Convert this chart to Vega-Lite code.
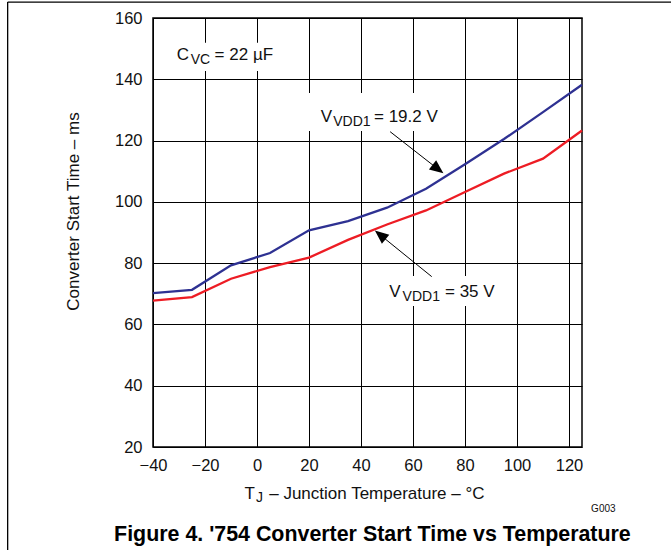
{
  "$schema": "https://vega.github.io/schema/vega-lite/v6.json",
  "width": 429,
  "height": 429,
  "autosize": {"type": "none"},
  "padding": {"left": 153, "top": 18, "right": 89, "bottom": 103},
  "background": "white",
  "config": {
    "view": {"stroke": "black", "strokeWidth": 1.5},
    "font": "Liberation Sans, Arial, sans-serif",
    "axis": {
      "grid": true, "gridColor": "black", "gridOpacity": 1, "gridWidth": 1,
      "domain": false, "ticks": false,
      "labelFont": "Liberation Sans, Arial, sans-serif", "labelFontSize": 16.5, "labelColor": "#111111",
      "labelFlush": false, "labelOverlap": false,
      "titleFont": "Liberation Sans, Arial, sans-serif", "titleFontWeight": "normal", "titleColor": "#111111"
    }
  },
  "datasets": {
    "series": [
      {"x": -40, "y": 70.2, "series": "19.2 V"}, {"x": -25, "y": 71.3, "series": "19.2 V"},
      {"x": -10, "y": 79.3, "series": "19.2 V"}, {"x": 5, "y": 83.3, "series": "19.2 V"},
      {"x": 20, "y": 90.7, "series": "19.2 V"}, {"x": 35, "y": 93.7, "series": "19.2 V"},
      {"x": 50, "y": 98.1, "series": "19.2 V"}, {"x": 65, "y": 104.3, "series": "19.2 V"},
      {"x": 80, "y": 112.3, "series": "19.2 V"}, {"x": 95, "y": 120.5, "series": "19.2 V"},
      {"x": 110, "y": 129.3, "series": "19.2 V"}, {"x": 125, "y": 138.2, "series": "19.2 V"},
      {"x": -40, "y": 67.8, "series": "35 V"}, {"x": -25, "y": 68.9, "series": "35 V"},
      {"x": -10, "y": 74.9, "series": "35 V"}, {"x": 5, "y": 78.7, "series": "35 V"},
      {"x": 20, "y": 81.8, "series": "35 V"}, {"x": 35, "y": 87.6, "series": "35 V"},
      {"x": 50, "y": 92.6, "series": "35 V"}, {"x": 65, "y": 97.2, "series": "35 V"},
      {"x": 80, "y": 103.2, "series": "35 V"}, {"x": 95, "y": 109.2, "series": "35 V"},
      {"x": 110, "y": 114.1, "series": "35 V"}, {"x": 125, "y": 123.3, "series": "35 V"}
    ],
    "frame": [
      {"x": -95.9, "y": 165.2, "x2": -95.9, "y2": -13.6},
      {"x": -95.9, "y": 165.2, "x2": 159.6, "y2": 165.2}
    ],
    "boxes": [
      {"x": -33.5, "y": 151.9, "x2": 9.6, "y2": 142.7},
      {"x": 19.6, "y": 135.5, "x2": 72.7, "y2": 123.1},
      {"x": 49.6, "y": 75.8, "x2": 94.6, "y2": 66.0}
    ],
    "arrows": [
      {"x": 51.2, "y": 122.9, "x2": 69.6, "y2": 110.7},
      {"x": 67.2, "y": 75.6, "x2": 47.4, "y2": 89.2}
    ],
    "headA": [{"x": 69.6, "y": 110.7}],
    "headB": [{"x": 47.4, "y": 89.2}],
    "mainText": [
      {"x": -30.9, "y": 146.2, "label": "C"},
      {"x": -16.3, "y": 146.2, "label": "= 22 µF"},
      {"x": 24.5, "y": 126.2, "label": "V"},
      {"x": 45.0, "y": 126.2, "label": "= 19.2 V"},
      {"x": 50.9, "y": 68.9, "label": "V"},
      {"x": 72.3, "y": 68.9, "label": "= 35 V"},
      {"x": -4.8, "y": 3.0, "label": "T"},
      {"x": 4.7, "y": 3.0, "label": "– Junction Temperature – °C"}
    ],
    "subText": [
      {"x": -25.5, "y": 145.0, "label": "VC"},
      {"x": 29.3, "y": 124.8, "label": "VDD1"},
      {"x": 56.0, "y": 67.7, "label": "VDD1"},
      {"x": -0.4, "y": 2.05, "label": "J"}
    ],
    "figTitle": [{"x": 44.4, "y": -10.66, "label": "Figure 4. '754 Converter Start Time vs Temperature"}],
    "note": [{"x": 128.5, "y": -1.2, "label": "G003"}]
  },
  "encoding": {
    "x": {
      "field": "x", "type": "quantitative",
      "scale": {"domain": [-40, 125], "nice": false, "zero": false},
      "axis": {"values": [-40, -20, 0, 20, 40, 60, 80, 100, 120], "labelPadding": 10, "title": null}
    },
    "y": {
      "field": "y", "type": "quantitative",
      "scale": {"domain": [20, 160], "nice": false, "zero": false},
      "axis": {
        "values": [20, 40, 60, 80, 100, 120, 140, 160], "labelPadding": 11,
        "title": "Converter Start Time – ms", "titleFontSize": 17,
        "titleX": -74.7, "titleY": 193, "titleBaseline": "alphabetic", "titleAngle": -90, "titleAlign": "center"
      }
    }
  },
  "layer": [
    {
      "data": {"name": "frame"},
      "mark": {"type": "rule", "color": "black", "strokeWidth": 1.3},
      "encoding": {"x2": {"field": "x2"}, "y2": {"field": "y2"}}
    },
    {
      "data": {"name": "boxes"},
      "mark": {"type": "rect", "fill": "white", "stroke": null},
      "encoding": {"x2": {"field": "x2"}, "y2": {"field": "y2"}}
    },
    {
      "data": {"name": "series"},
      "mark": {"type": "line", "strokeWidth": 2.3},
      "encoding": {
        "color": {"field": "series", "type": "nominal", "scale": {"domain": ["19.2 V", "35 V"], "range": ["#2e3192", "#ed1c24"]}, "legend": null}
      }
    },
    {
      "data": {"name": "arrows"},
      "mark": {"type": "rule", "color": "black", "strokeWidth": 1},
      "encoding": {"x2": {"field": "x2"}, "y2": {"field": "y2"}}
    },
    {
      "data": {"name": "headA"},
      "mark": {"type": "point", "shape": "M0,-1L0.85,1L-0.85,1Z", "filled": true, "color": "black", "opacity": 1, "size": 190, "angle": 128}
    },
    {
      "data": {"name": "headB"},
      "mark": {"type": "point", "shape": "M0,-1L0.85,1L-0.85,1Z", "filled": true, "color": "black", "opacity": 1, "size": 190, "angle": 309}
    },
    {
      "data": {"name": "mainText"},
      "mark": {"type": "text", "align": "left", "baseline": "alphabetic", "fontSize": 17, "color": "#111111"},
      "encoding": {"text": {"field": "label"}}
    },
    {
      "data": {"name": "subText"},
      "mark": {"type": "text", "align": "left", "baseline": "alphabetic", "fontSize": 14, "color": "#111111"},
      "encoding": {"text": {"field": "label"}}
    },
    {
      "data": {"name": "figTitle"},
      "mark": {"type": "text", "align": "center", "baseline": "alphabetic", "fontSize": 21.4, "fontWeight": "bold", "color": "black"},
      "encoding": {"text": {"field": "label"}}
    },
    {
      "data": {"name": "note"},
      "mark": {"type": "text", "align": "left", "baseline": "alphabetic", "fontSize": 10, "color": "#111111"},
      "encoding": {"text": {"field": "label"}}
    }
  ]
}
